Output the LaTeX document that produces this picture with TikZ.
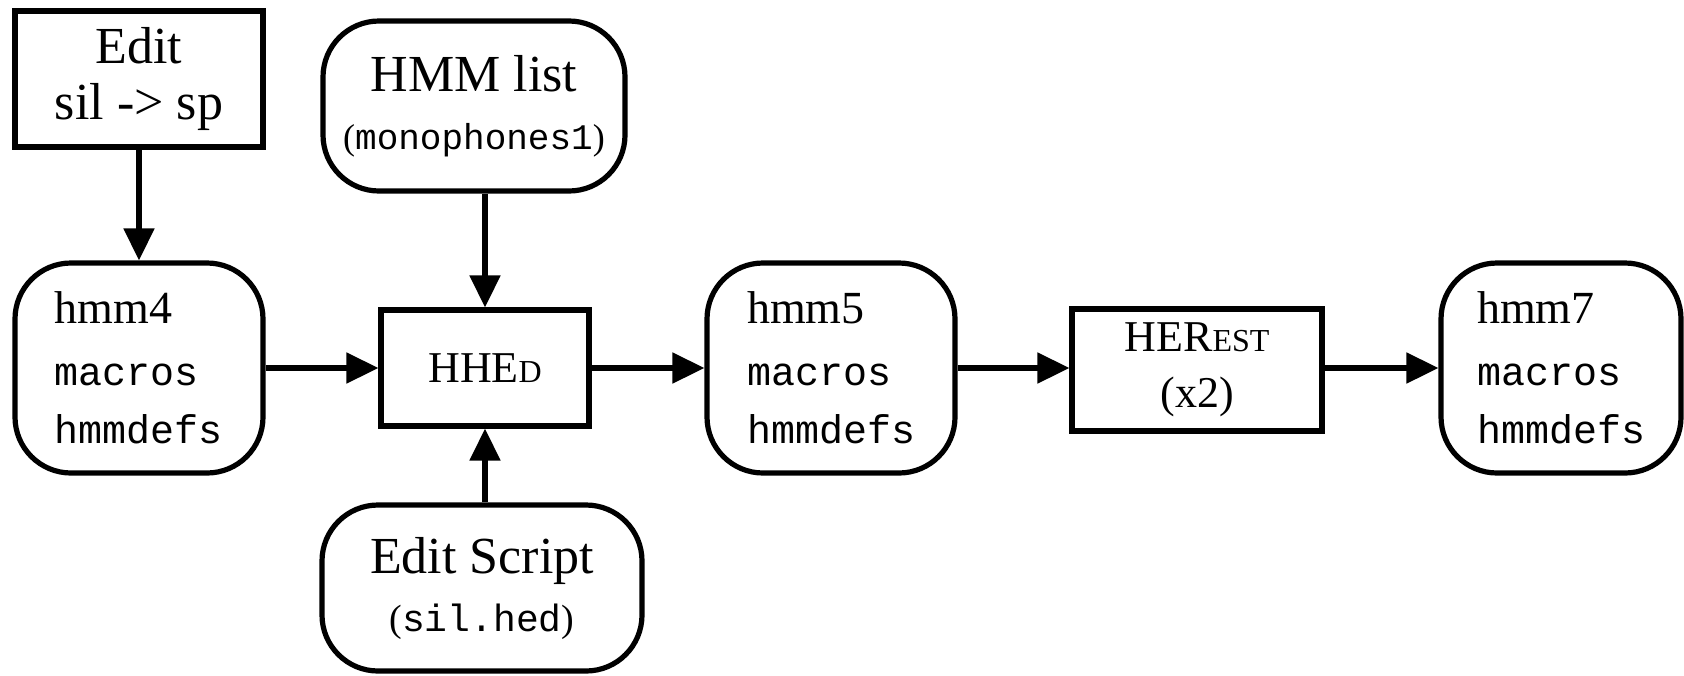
\documentclass[tikz,border=0pt]{standalone}
\usepackage{fontspec}
\setmainfont{Liberation Serif}
\setmonofont{Liberation Mono}
\usetikzlibrary{arrows.meta}
\begin{document}
\begin{tikzpicture}[x=0.5pt,y=-0.5pt,
  box/.style={draw,line width=2.6pt,inner sep=0pt,align=center},
  rbox/.style={box,rounded corners=28pt},
  arr/.style={line width=2.6pt,-{Triangle[length=16pt,width=15pt]}},
  big/.style={font=\fontsize{26}{30}\selectfont},
  mid/.style={font=\fontsize{23}{27}\selectfont}]
\useasboundingbox (0,0) rectangle (1684,675);
\node[box,big,minimum width=124pt,minimum height=68pt] (edit) at (139,79)
  {Edit\\[-2pt]sil -> sp};
\node[rbox,big,minimum width=151pt,minimum height=85pt] (hmmlist) at (474,106)
  {HMM list\\[-1pt]{\fontsize{18}{22}\selectfont(\texttt{monophones1})}};
\node[rbox,mid,align=left,minimum width=124pt,minimum height=105pt] (hmm4) at (139,368)
  {hmm4\\[4pt]{\fontsize{20}{24}\selectfont\ttfamily macros}\\[2pt]{\fontsize{20}{24}\selectfont\ttfamily hmmdefs}};
\node[box,minimum width=104pt,minimum height=58pt,font=\fontsize{22}{26}\selectfont] (hhed) at (485,368)
  {HHE{\fontsize{16}{20}\selectfont D}};
\node[rbox,big,minimum width=160pt,minimum height=83pt] (editscript) at (482,588)
  {Edit Script\\[-1pt]{\fontsize{19}{23}\selectfont(\texttt{sil.hed})}};
\node[rbox,mid,align=left,minimum width=124pt,minimum height=105pt] (hmm5) at (831,368)
  {hmm5\\[4pt]{\fontsize{20}{24}\selectfont\ttfamily macros}\\[2pt]{\fontsize{20}{24}\selectfont\ttfamily hmmdefs}};
\node[box,minimum width=125pt,minimum height=61pt,font=\fontsize{22}{27}\selectfont] (herest) at (1197,370)
  {HER{\fontsize{16}{20}\selectfont EST}\\[1pt](x2)};
\node[rbox,mid,align=left,minimum width=120pt,minimum height=105pt] (hmm7) at (1561,368)
  {hmm7\\[4pt]{\fontsize{20}{24}\selectfont\ttfamily macros}\\[2pt]{\fontsize{20}{24}\selectfont\ttfamily hmmdefs}};
\draw[arr] (edit.south) -- (hmm4.north);
\draw[arr] (hhed.north |- hmmlist.south) -- (hhed.north);
\draw[arr] (hhed.south |- editscript.north) -- (hhed.south);
\draw[arr] (hmm4.east) -- (hhed.west);
\draw[arr] (hhed.east) -- (hmm5.west);
\draw[arr] (hmm5.east) -- (herest.west |- hmm5.east);
\draw[arr] (herest.east |- hmm7.west) -- (hmm7.west);
\end{tikzpicture}
\end{document}
